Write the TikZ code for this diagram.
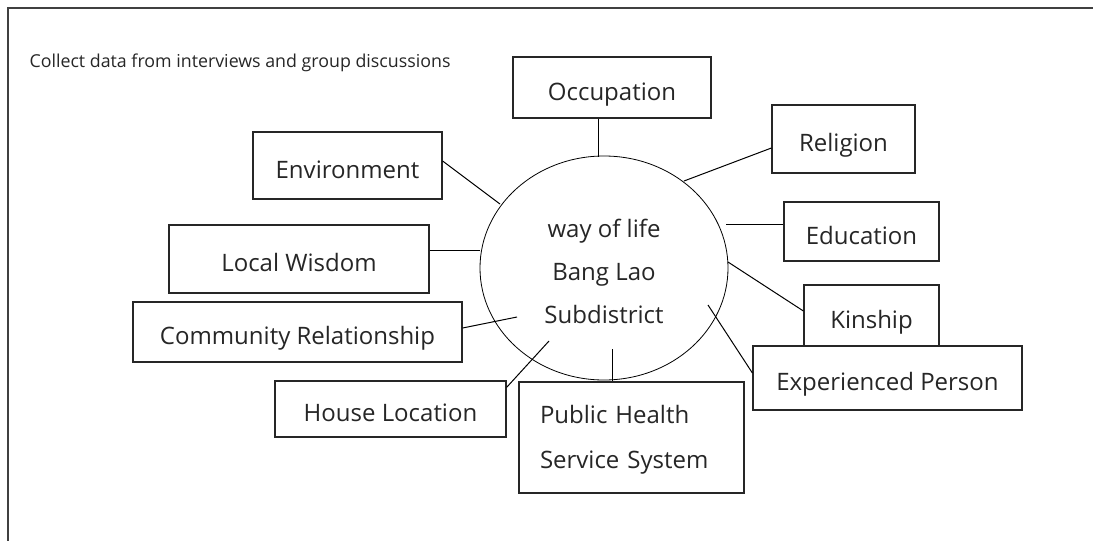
\documentclass[tikz,border=0pt]{standalone}
\usepackage{fontspec}
\setmainfont{Open Sans}
\usetikzlibrary{shapes.geometric}

\tikzset{
	box node/.style = {
		rectangle,
		draw = black!85,
		line width = 1.2pt,
		fill = white,
		inner sep = 0pt,
		text = black!85,
		font = \fontsize{24}{29}\selectfont
	},
	item node/.style = {
		box node,
		text height = 25pt,
		text depth = 0pt
	},
	hub node/.style = {
		ellipse,
		draw = black,
		line width = 0.8pt,
		inner sep = 0pt,
		minimum width = 248,
		minimum height = 224,
		align = center,
		text = black!85,
		text height = 110pt,
		text depth = 0pt,
		font = \fontsize{24}{43}\selectfont
	},
	link/.style = {
		draw = black,
		line width = 1pt
	},
	frame/.style = {
		draw = black!75,
		line width = 1.6pt
	}
}

\begin{document}
\begin{tikzpicture}[x=1pt, y=-1pt]
	\useasboundingbox (0,0) rectangle (1093,541);
	\draw [frame] (8,541) -- (8,8) -- (1093,8);

	\node at (26,67) [anchor=base west, text=black!85, font=\fontsize{17.8}{21}\selectfont] (note) {Collect data from interviews and group discussions};

	\node at (604,268) [hub node] (hub) {way of life\\Bang Lao\\Subdistrict};

	\node at (612,87.5)    [item node, minimum width=198, minimum height=61] (occ)   {Occupation};
	\node at (347.5,165.5) [item node, minimum width=189, minimum height=67] (env)   {Environment};
	\node at (843.5,139)   [item node, minimum width=143, minimum height=68] (rel)   {Religion};
	\node at (861.5,231.5) [item node, minimum width=155, minimum height=59] (edu)   {Education};
	\node at (871.5,315.5) [item node, minimum width=135, minimum height=61] (kin)   {Kinship};
	\node at (887.5,378)   [item node, minimum width=269, minimum height=64] (exp)   {Experienced Person};
	\node at (299,259)     [item node, minimum width=260, minimum height=68] (wis)   {Local Wisdom};
	\node at (297.5,332)   [item node, minimum width=329, minimum height=60] (com)   {Community Relationship};
	\node at (390.5,409)   [item node, minimum width=231, minimum height=56] (house) {House Location};
	\node at (631.5,437.5) [box node, minimum width=225, minimum height=111, text width=183, inner xsep=21pt, align=left, text height=17pt, text depth=45pt, font=\fontsize{24}{45}\selectfont] (pub) {Public Health\\Service System};

	\coordinate (occ end)   at (598,157);
	\coordinate (env end)   at (500,204);
	\coordinate (rel end)   at (684,181);
	\coordinate (edu end)   at (726,224);
	\coordinate (kin end)   at (728,262);
	\coordinate (exp end)   at (708,305);
	\coordinate (wis end)   at (480,250);
	\coordinate (com end)   at (517,317);
	\coordinate (house end) at (549,341);
	\coordinate (pub end)   at (612,349);

	\draw [link] ([xshift=-14pt]occ.south)     -- (occ end);
	\draw [link] ([yshift=4.5pt]env.east)      -- (env end);
	\draw [link] ([yshift=-9pt]rel.west)       -- (rel end);
	\draw [link] ([yshift=7.5pt]edu.west)      -- (edu end);
	\draw [link] ([yshift=4.5pt]kin.west)      -- (kin end);
	\draw [link] ([yshift=5pt]exp.west)        -- (exp end);
	\draw [link] ([yshift=9pt]wis.east)        -- (wis end);
	\draw [link] ([yshift=4pt]com.east)        -- (com end);
	\draw [link] ([yshift=-7pt]house.north east) -- (house end);
	\draw [link] ([xshift=-19.5pt]pub.north)   -- (pub end);
\end{tikzpicture}
\end{document}
